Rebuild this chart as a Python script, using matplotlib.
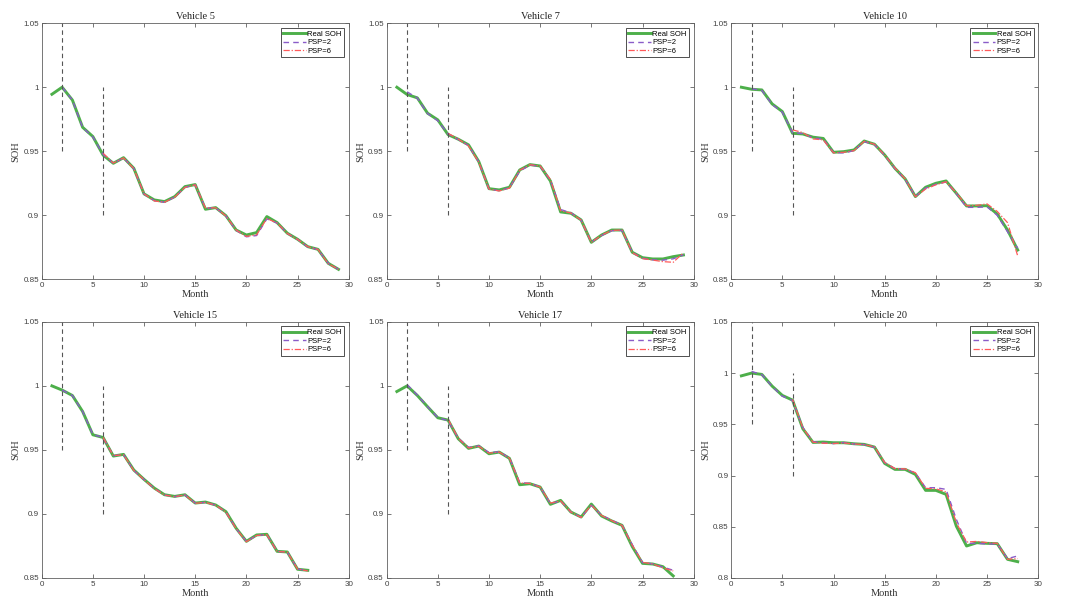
import matplotlib
matplotlib.use("Agg")
import matplotlib.pyplot as plt
from matplotlib.ticker import FuncFormatter

# ---- data ------------------------------------------------------------------
V5_REAL = [0.9945, 1.0, 0.990, 0.9687, 0.9615, 0.947, 0.9406, 0.945, 0.9367, 0.9167,
           0.912, 0.9107, 0.9146, 0.9224, 0.924, 0.9047, 0.906, 0.8997, 0.8885, 0.8846,
           0.8865, 0.899, 0.8943, 0.886, 0.8813, 0.8755, 0.8734, 0.8625, 0.8578]
V5_PSP2 = [1.0, 0.990, 0.9685, 0.9612, 0.9475, 0.9406, 0.9448, 0.9365, 0.9165,
           0.9115, 0.9102, 0.9142, 0.9218, 0.9238, 0.9055, 0.9058, 0.8995, 0.8882, 0.8832,
           0.8842, 0.8972, 0.894, 0.8858, 0.8812, 0.8752, 0.8733, 0.8625, 0.8578]
V5_PSP6 = [0.9485, 0.9408, 0.9448, 0.9365, 0.9168,
           0.9112, 0.9102, 0.9142, 0.9218, 0.9238, 0.9058, 0.9058, 0.8995, 0.8885, 0.8835,
           0.8848, 0.8975, 0.894, 0.8858, 0.8812, 0.8755, 0.8733, 0.8622, 0.8578]

V7_REAL = [1.0, 0.9943, 0.9917, 0.9797, 0.9745, 0.963, 0.9594, 0.955, 0.942, 0.9208,
           0.9198, 0.9219, 0.9354, 0.9396, 0.9385, 0.9268, 0.9026, 0.9016, 0.8964, 0.8789,
           0.8846, 0.8885, 0.8885, 0.8711, 0.8669, 0.8659, 0.8659, 0.8677, 0.869]
V7_PSP2 = [0.9964, 0.9915, 0.9795, 0.9738, 0.9635, 0.9592, 0.9545, 0.9418, 0.9205,
           0.9192, 0.9215, 0.9345, 0.9392, 0.9382, 0.9275, 0.9045, 0.902, 0.8962, 0.879,
           0.8842, 0.888, 0.8882, 0.871, 0.8665, 0.8652, 0.865, 0.866, 0.8692]
V7_PSP6 = [0.964, 0.9595, 0.9542, 0.9415, 0.9205,
           0.919, 0.9212, 0.9352, 0.9395, 0.9385, 0.928, 0.9035, 0.9018, 0.8962, 0.8788,
           0.8845, 0.8882, 0.8885, 0.8708, 0.8662, 0.865, 0.8638, 0.8633, 0.8708]

V10_REAL = [1.0, 0.9984, 0.9979, 0.987, 0.981, 0.964, 0.9635, 0.961, 0.960, 0.9492,
            0.9497, 0.951, 0.958, 0.9555, 0.9471, 0.9367, 0.9284, 0.9146, 0.9219, 0.925,
            0.9268, 0.9172, 0.9073, 0.9073, 0.9075, 0.901, 0.8885, 0.8729]
V10_PSP2 = [0.9988, 0.9975, 0.9865, 0.9805, 0.9645, 0.9638, 0.9605, 0.9595, 0.949,
            0.9487, 0.9505, 0.9575, 0.9552, 0.9468, 0.9365, 0.928, 0.9148, 0.9212, 0.9242,
            0.926, 0.917, 0.9062, 0.9062, 0.9066, 0.9, 0.8872, 0.8742]
V10_PSP6 = [0.9667, 0.9646, 0.9596, 0.9589, 0.9488,
            0.9492, 0.9505, 0.9578, 0.9555, 0.947, 0.937, 0.9285, 0.9145, 0.9205, 0.9238,
            0.9262, 0.9175, 0.9075, 0.9078, 0.9089, 0.903, 0.8943, 0.8682]

V15_REAL = [1.0, 0.9967, 0.9925, 0.980, 0.9618, 0.9597, 0.9452, 0.9465, 0.9343, 0.927,
            0.9202, 0.915, 0.9137, 0.915, 0.9085, 0.9093, 0.907, 0.9018, 0.8888, 0.8786,
            0.8836, 0.8841, 0.8708, 0.8703, 0.8568, 0.856]
V15_PSP2 = [0.9967, 0.9925, 0.980, 0.962, 0.9597, 0.9455, 0.9463, 0.934, 0.9268,
            0.92, 0.9148, 0.9135, 0.9148, 0.9085, 0.909, 0.9068, 0.9015, 0.8885, 0.8785,
            0.8832, 0.8838, 0.8708, 0.8702, 0.857, 0.8558]
V15_PSP6 = [0.9597, 0.9455, 0.9462, 0.934, 0.9268,
            0.9198, 0.9147, 0.9135, 0.9148, 0.9083, 0.909, 0.9068, 0.9015, 0.8885, 0.8783,
            0.8832, 0.8838, 0.8707, 0.8702, 0.857, 0.8555]

V17_REAL = [0.9956, 1.0, 0.9925, 0.9837, 0.9751, 0.9733, 0.9587, 0.9512, 0.953, 0.947,
            0.9483, 0.9434, 0.9228, 0.9236, 0.921, 0.9075, 0.9106, 0.9015, 0.8976, 0.9077,
            0.8984, 0.8945, 0.8911, 0.8745, 0.8614, 0.8609, 0.8588, 0.8516]
V17_PSP2 = [1.001, 0.9928, 0.9838, 0.9752, 0.9728, 0.9592, 0.952, 0.9532, 0.948,
            0.9485, 0.9438, 0.9245, 0.9238, 0.9212, 0.908, 0.9102, 0.9015, 0.8975, 0.9068,
            0.899, 0.895, 0.8912, 0.876, 0.862, 0.861, 0.8585, 0.856]
V17_PSP6 = [0.974, 0.959, 0.9515, 0.9528, 0.9475,
            0.9483, 0.9435, 0.9242, 0.9238, 0.921, 0.9085, 0.9102, 0.9015, 0.8972, 0.907,
            0.8988, 0.8948, 0.891, 0.8755, 0.8622, 0.861, 0.8578, 0.8555]

V20_REAL = [0.9973, 1.0, 0.9987, 0.9873, 0.9782, 0.9736, 0.9457, 0.9323, 0.9327, 0.932,
            0.932, 0.931, 0.9304, 0.9278, 0.9118, 0.906, 0.906, 0.9011, 0.8855, 0.8855,
            0.8816, 0.8506, 0.8312, 0.8344, 0.8338, 0.8335, 0.8182, 0.8159]
V20_PSP2 = [1.0016, 0.9985, 0.987, 0.9775, 0.9732, 0.947, 0.933, 0.9318, 0.9312,
            0.9322, 0.9308, 0.9302, 0.9275, 0.9125, 0.9065, 0.9062, 0.9025, 0.8881, 0.8881,
            0.8865, 0.8572, 0.8338, 0.8338, 0.8332, 0.8332, 0.8189, 0.8215]
V20_PSP6 = [0.9742, 0.9465, 0.9325, 0.9315, 0.9312,
            0.9318, 0.9308, 0.9302, 0.928, 0.9128, 0.9068, 0.9065, 0.9028, 0.8875, 0.887,
            0.884, 0.854, 0.8351, 0.8357, 0.8345, 0.8338, 0.8182, 0.8189]

VEHICLES = ["Vehicle 5", "Vehicle 7", "Vehicle 10", "Vehicle 15", "Vehicle 17", "Vehicle 20"]
REAL = [V5_REAL, V7_REAL, V10_REAL, V15_REAL, V17_REAL, V20_REAL]
PSP2 = [V5_PSP2, V7_PSP2, V10_PSP2, V15_PSP2, V17_PSP2, V20_PSP2]
PSP6 = [V5_PSP6, V7_PSP6, V10_PSP6, V15_PSP6, V17_PSP6, V20_PSP6]
Y_LOW = [0.85, 0.85, 0.85, 0.85, 0.85, 0.8]
PSP_STARTS = [2, 6]

GREEN = "#4daf4a"
PURPLE = "#8a5cc8"
RED = "#ff5a5a"
AX_COLOR = "#404040"

SERIF = ["Liberation Serif", "DejaVu Serif"]
SANS = ["Liberation Sans", "DejaVu Sans"]

plt.rcParams["font.family"] = SANS
plt.rcParams["axes.linewidth"] = 0.6

fig = plt.figure(figsize=(10.8, 6.12), dpi=100)

# axes boxes measured on the reference (figure fractions)
lefts = [0.0386, 0.358, 0.677]
bottoms = [0.5436, 0.0556]
width, height = 0.2843, 0.4185


def g_fmt(v, pos):
    return f"{v:g}"


for i, name in enumerate(VEHICLES):
    row, col = divmod(i, 3)
    ax = fig.add_axes([lefts[col], bottoms[row], width, height])

    real = REAL[i]
    months = list(range(1, len(real) + 1))
    p2 = PSP2[i]
    p6 = PSP6[i]
    m2 = list(range(PSP_STARTS[0], PSP_STARTS[0] + len(p2)))
    m6 = list(range(PSP_STARTS[1], PSP_STARTS[1] + len(p6)))

    ax.plot(months, real, color=GREEN, lw=2.1, label="Real SOH")
    ax.plot(m2, p2, color=PURPLE, lw=1.0, ls=(0, (4, 3)), label="PSP=2")
    ax.plot(m6, p6, color=RED, lw=0.9, ls=(0, (5, 1.5, 1, 1.5)), label="PSP=6")

    # prediction start markers
    ax.plot([2, 2], [0.95, 1.05], color="#555555", lw=0.8, ls=(0, (4, 3)))
    ax.plot([6, 6], [0.9, 1.0], color="#555555", lw=0.8, ls=(0, (4, 3)))

    ax.set_xlim(0, 30)
    ax.set_ylim(Y_LOW[i], 1.05)
    ax.set_xticks(range(0, 31, 5))
    if Y_LOW[i] == 0.8:
        ax.set_yticks([0.8, 0.85, 0.9, 0.95, 1.0, 1.05])
    else:
        ax.set_yticks([0.85, 0.9, 0.95, 1.0, 1.05])
    ax.yaxis.set_major_formatter(FuncFormatter(g_fmt))
    ax.xaxis.set_major_formatter(FuncFormatter(g_fmt))

    ax.tick_params(direction="in", top=True, right=True, length=3, width=0.5,
                   labelsize=5.8, colors=AX_COLOR, pad=2)
    for sp in ax.spines.values():
        sp.set_color("#606060")

    ax.set_title(name, fontsize=7.5, family=SERIF, color="#222222", pad=3)
    ax.set_xlabel("Month", fontsize=7.5, family=SERIF, color="#333333", labelpad=1)
    ax.set_ylabel("SOH", fontsize=7.5, family=SERIF, color="#333333", labelpad=2)

    leg = ax.legend(loc="upper right", fontsize=5.5, handlelength=2.9,
                    handletextpad=0.2, borderpad=0.35, labelspacing=0.15,
                    fancybox=False, framealpha=1, borderaxespad=0.6)
    leg.get_frame().set_edgecolor("#333333")
    leg.get_frame().set_linewidth(0.6)

fig.savefig("out.png", dpi=100)
